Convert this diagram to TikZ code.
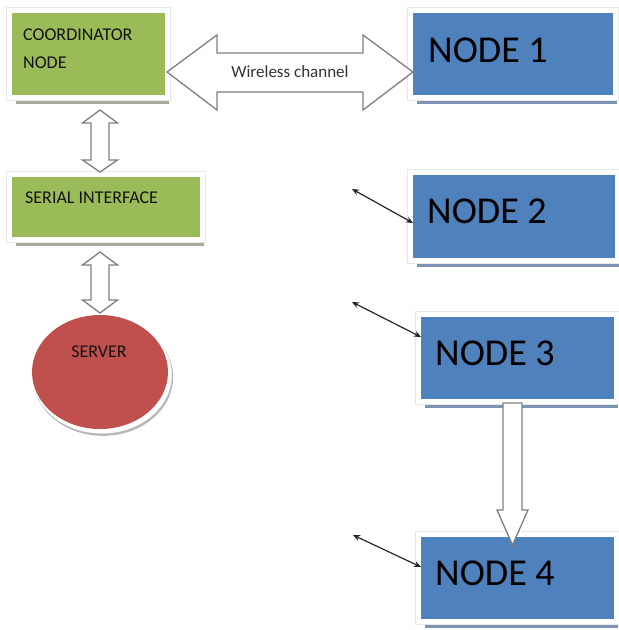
\documentclass[tikz,border=0pt]{standalone}
\usepackage{fontspec}
\setmainfont{Carlito}
\usetikzlibrary{arrows.meta,shapes.geometric,shadows}
\definecolor{gbox}{HTML}{9BBB59}
\definecolor{bbox}{HTML}{4F81BD}
\definecolor{rsrv}{HTML}{C0504D}
\definecolor{gshadow}{HTML}{A3AA98}
\definecolor{bshadow}{HTML}{7F93B5}
\definecolor{arrgray}{HTML}{7F7F7F}
\definecolor{txt}{HTML}{141414}
\tikzset{
 officebox/.style={rectangle, inner sep=0pt, outer sep=0pt, anchor=north west,
   general shadow={fill=#1, shadow xshift=4pt, shadow yshift=-9pt},
   preaction={draw=black!9, line width=12pt},
   preaction={draw=white, line width=10pt}},
 greenbox/.style={officebox=gshadow, fill=gbox},
 bluebox/.style={officebox=bshadow, fill=bbox},
 serverstyle/.style={ellipse, fill=rsrv, inner sep=0pt, outer sep=0pt,
   general shadow={fill=black!28, shadow xshift=3pt, shadow yshift=-5pt, shadow scale=1.03},
   general shadow={fill=white, shadow xshift=2pt, shadow yshift=-3pt, shadow scale=1.025}},
 smalltxt/.style={font=\fontsize{18}{20}\selectfont, text=txt, anchor=base west, inner sep=0pt},
 bigtxt/.style={font=\fontsize{38}{40}\selectfont, text=black, anchor=base west, inner sep=0pt},
 fatarrow/.style={draw=arrgray, line width=1.3pt, fill=white, line join=miter},
 link/.style={draw=black!85, line width=1.2pt, {Stealth[length=7pt,width=6pt]}-{Stealth[length=7pt,width=6pt]}}
}
\begin{document}
\begin{tikzpicture}[x=1pt,y=-1pt]
\useasboundingbox (0,0) rectangle (619,630);
% left column
\node[greenbox, minimum width=153pt, minimum height=82pt] (coord) at (12,13) {};
\node[smalltxt] (coordtA) at (23,40) {COORDINATOR};
\node[smalltxt] (coordtB) at (23,68) {NODE};
\node[greenbox, minimum width=188pt, minimum height=60pt] (serial) at (12,177) {};
\node[smalltxt] (serialt) at (25,203) {SERIAL INTERFACE};
\node[serverstyle, minimum width=136pt, minimum height=114pt] (server) at (100,372) {};
\node[smalltxt, anchor=base] (servert) at (99,357) {SERVER};
% right column
\node[bluebox, minimum width=200pt, minimum height=82pt] (n1) at (413,13) {};
\node[bigtxt] (n1t) at (428,62) {NODE 1};
\node[bluebox, minimum width=202pt, minimum height=83pt] (n2) at (413,175) {};
\node[bigtxt] (n2t) at (427,223) {NODE 2};
\node[bluebox, minimum width=193pt, minimum height=82pt] (n3) at (421,317) {};
\node[bigtxt] (n3t) at (435,365) {NODE 3};
\node[bluebox, minimum width=193pt, minimum height=82pt] (n4) at (421,537) {};
\node[bigtxt] (n4t) at (435,585) {NODE 4};
% wireless channel arrow
\draw[fatarrow] (167,72) -- (217,35) -- (217,53) -- (363,53) -- (363,35) -- (413,72)
  -- (363,110) -- (363,92) -- (217,92) -- (217,110) -- cycle;
\node[font=\fontsize{17}{19}\selectfont, text=black!80, inner sep=0pt] (wl) at (290,72) {Wireless channel};
% vertical double arrows
\draw[fatarrow] (100,110) -- (117.5,123) -- (109,123) -- (109,160) -- (117.5,160) -- (100,172)
  -- (82.5,160) -- (91,160) -- (91,123) -- (82.5,123) -- cycle;
\draw[fatarrow] (100,252) -- (117.5,265) -- (109,265) -- (109,300) -- (117.5,300) -- (100,313)
  -- (82.5,300) -- (91,300) -- (91,265) -- (82.5,265) -- cycle;
% node3 -> node4 arrow
\draw[fatarrow] (503,403) -- (522,403) -- (522,510) -- (528,510) -- (512.5,545) -- (497,510)
  -- (503,510) -- cycle;
% small links
\coordinate (a2) at (352,189); \coordinate (h2) at (0,223);
\coordinate (a3) at (352,302); \coordinate (h3) at (0,337);
\coordinate (a4) at (353,535); \coordinate (h4) at (0,567);
\draw[link] (a2) -- (n2.west |- h2);
\draw[link] (a3) -- (n3.west |- h3);
\draw[link] (a4) -- (n4.west |- h4);
\end{tikzpicture}
\end{document}
